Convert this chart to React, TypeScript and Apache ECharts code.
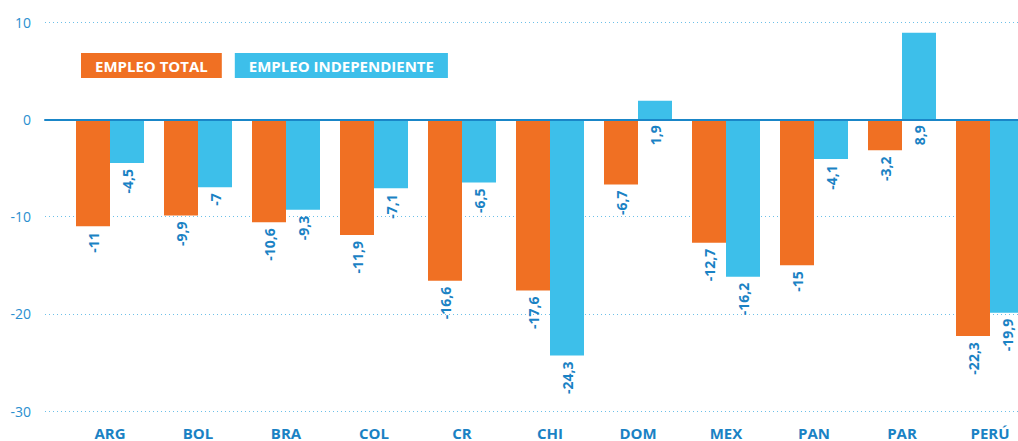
import React, { useEffect, useRef } from "react";
import * as echarts from "echarts";

const categories = ["ARG", "BOL", "BRA", "COL", "CR", "CHI", "DOM", "MEX", "PAN", "PAR", "PERÚ"];
const empleoTotal = [-11, -9.9, -10.6, -11.9, -16.6, -17.6, -6.7, -12.7, -15, -3.2, -22.3];
const empleoIndependiente = [-4.5, -7, -9.3, -7.1, -6.5, -24.3, 1.9, -16.2, -4.1, 8.9, -19.9];
const seriesNames = ["EMPLEO TOTAL", "EMPLEO INDEPENDIENTE"];
const yMin = -30;
const yMax = 10;
const yInterval = 10;

const ORANGE = "#F07023";
const BLUE = "#3DBFEA";
const TEXT_BLUE = "#1A82C4";
const FONT = "'Open Sans', 'Noto Sans', sans-serif";

export default function App() {
  const ref = useRef<HTMLDivElement>(null);
  useEffect(() => {
    document.body.style.margin = "0";
    const chart = echarts.init(ref.current!, null, { renderer: "svg" });
    const label = {
      show: true,
      position: "bottom",
      distance: 6,
      rotate: 90,
      align: "right",
      verticalAlign: "middle",
      color: TEXT_BLUE,
      fontWeight: "bold",
      fontSize: 14,
      fontFamily: FONT,
      formatter: (p: any) => String(p.value).replace(".", ","),
    };
    const legendBox = (bg: string) => ({
      backgroundColor: bg,
      color: "#fff",
      fontWeight: "bold",
      fontSize: 15,
      fontFamily: FONT,
      lineHeight: 15,
      padding: [5, 14, 5, 14],
    });
    chart.setOption({
      animation: false,
      textStyle: { fontFamily: FONT },
      legend: {
        left: 76,
        top: 53,
        padding: 0,
        itemWidth: 0,
        itemHeight: 0,
        itemGap: 8,
        data: seriesNames,
        formatter: (name: string) => (name === seriesNames[0] ? `{o|${name}}` : `{b|${name}}`),
        textStyle: {
          rich: {
            o: legendBox(ORANGE),
            b: legendBox(BLUE),
          },
        },
      },
      grid: [
        { left: 66, width: 968, top: 22, bottom: 30, outerBoundsMode: "none", containLabel: false },
        { left: 45, right: 0, top: 22, bottom: 30, outerBoundsMode: "none", containLabel: false },
      ],
      xAxis: [
        {
          type: "category",
          gridIndex: 0,
          data: categories,
          axisLine: { show: false, onZero: false },
          axisTick: { show: false },
          axisLabel: {
            color: TEXT_BLUE,
            fontWeight: "bold",
            fontSize: 15,
            fontFamily: FONT,
            margin: 14,
          },
        },
        {
          type: "value",
          gridIndex: 1,
          min: 0,
          max: 1,
          axisLine: { show: true, onZero: true, lineStyle: { color: "#1A86C8", width: 2 } },
          axisTick: { show: false },
          axisLabel: { show: false },
          splitLine: { show: false },
          z: 10,
        },
      ],
      yAxis: [
        {
          type: "value",
          gridIndex: 0,
          min: yMin,
          max: yMax,
          interval: yInterval,
          axisLine: { show: false },
          axisTick: { show: false },
          axisLabel: { show: false },
          splitLine: { show: false },
        },
        {
          type: "value",
          gridIndex: 1,
          min: yMin,
          max: yMax,
          interval: yInterval,
          axisLine: { show: false },
          axisTick: { show: false },
          axisLabel: { color: "#2A8FCF", fontSize: 14, fontFamily: FONT, margin: 14 },
          splitLine: { show: true, lineStyle: { type: [1, 3], color: "#6DC0E8", width: 1 } },
        },
      ],
      series: [
        {
          name: seriesNames[0],
          type: "bar",
          xAxisIndex: 0,
          yAxisIndex: 0,
          data: empleoTotal,
          barWidth: 34,
          barGap: "0%",
          itemStyle: { color: ORANGE },
          label,
        },
        {
          name: seriesNames[1],
          type: "bar",
          xAxisIndex: 0,
          yAxisIndex: 0,
          data: empleoIndependiente,
          barWidth: 34,
          barGap: "0%",
          itemStyle: { color: BLUE },
          label,
        },
      ],
    });
    return () => chart.dispose();
  }, []);
  return <div ref={ref} style={{ width: 1018, height: 441 }} />;
}
